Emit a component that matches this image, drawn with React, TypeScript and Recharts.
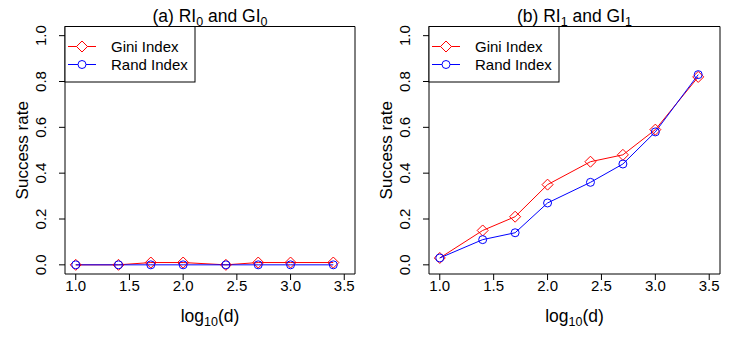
import React from "react";
import { LineChart, Line, XAxis, YAxis, ReferenceArea } from "recharts";

// ---- data ----
const logD = [1, 1.398, 1.699, 2, 2.398, 2.699, 3, 3.398];
const gini0 = [0, 0, 0.01, 0.01, 0, 0.01, 0.01, 0.01];
const rand0 = [0, 0, 0, 0, 0, 0, 0, 0];
const gini1 = [0.03, 0.15, 0.21, 0.35, 0.45, 0.48, 0.59, 0.82];
const rand1 = [0.03, 0.11, 0.14, 0.27, 0.36, 0.44, 0.58, 0.83];
const xTicks = [1, 1.5, 2, 2.5, 3, 3.5];
const yTicks = [0, 0.2, 0.4, 0.6, 0.8, 1];
const seriesNames = ["Gini Index", "Rand Index"];
const panelLetters = ["(a)", "(b)"];
const panelSubs = ["0", "1"];
const yLabel = "Success rate";

const FONT = "'Liberation Sans', Arial, Helvetica, sans-serif";
const RED = "#FF0000";
const BLUE = "#0000FF";

const Diamond = (props: any) => {
  const { cx, cy, index } = props;
  if (cx == null || cy == null) return <g key={"d" + index} />;
  const s = 5.5;
  return (
    <path
      key={"d" + index}
      d={`M${cx},${cy - s}L${cx + s},${cy}L${cx},${cy + s}L${cx - s},${cy}Z`}
      fill="none"
      stroke={RED}
      strokeWidth={1}
    />
  );
};

const Circ = (props: any) => {
  const { cx, cy, index } = props;
  if (cx == null || cy == null) return <g key={"c" + index} />;
  return <circle key={"c" + index} cx={cx} cy={cy} r={4} fill="none" stroke={BLUE} strokeWidth={1} />;
};

const XTick = (props: any) => {
  const { x, y, payload } = props;
  return (
    <text x={x} y={y + 11} textAnchor="middle" fontFamily={FONT} fontSize={15} fill="#000">
      {Number(payload.value).toFixed(1)}
    </text>
  );
};

const YTick = (props: any) => {
  const { x, y, payload } = props;
  const bx = x - 13;
  return (
    <text
      x={bx}
      y={y}
      transform={`rotate(-90, ${bx}, ${y})`}
      textAnchor="middle"
      fontFamily={FONT}
      fontSize={15}
      fill="#000"
    >
      {Number(payload.value).toFixed(1)}
    </text>
  );
};

const XLabel = (props: any) => {
  const vb = props.viewBox || {};
  const cx = vb.x + vb.width / 2;
  const by = vb.y + 48;
  return (
    <text x={cx} y={by} textAnchor="middle" fontFamily={FONT} fontSize={17.5} fill="#000">
      log
      <tspan dy={4} fontSize={12.5}>10</tspan>
      <tspan dy={-4}>(d)</tspan>
    </text>
  );
};

const YLabel = (props: any) => {
  const vb = props.viewBox || {};
  const bx = vb.x + vb.width - 37;
  const cy = vb.y + vb.height / 2;
  return (
    <text
      x={bx}
      y={cy}
      transform={`rotate(-90, ${bx}, ${cy})`}
      textAnchor="middle"
      fontFamily={FONT}
      fontSize={17}
      fill="#000"
    >
      {yLabel}
    </text>
  );
};

type PanelProps = {
  left: number;
  yAxisWidth: number;
  rightMargin: number;
  idx: number;
  gini: number[];
  rand: number[];
};

const W = 373;
const H = 339;
const TOP = 26.5;
const XH = 65;

function Panel({ left, yAxisWidth, rightMargin, idx, gini, rand }: PanelProps) {
  const data = logD.map((x, i) => ({ x, gini: gini[i], rand: rand[i] }));
  const plotLeft = yAxisWidth;
  const plotRight = W - rightMargin;
  const titleX = (plotLeft + plotRight) / 2;
  const lgW = 130;
  const lgH = 55.5;
  return (
    <div style={{ position: "absolute", left, top: 0, width: W, height: H }}>
      <LineChart
        width={W}
        height={H}
        data={data}
        margin={{ top: TOP, right: rightMargin, bottom: 0, left: 0 }}
        style={{ fontFamily: FONT }}
      >
        <XAxis
          type="number"
          dataKey="x"
          domain={[0.9, 3.6]}
          ticks={xTicks}
          height={XH}
          axisLine={false}
          tickLine={{ stroke: "#000" }}
          tickSize={6}
          tickMargin={0}
          tick={<XTick />}
          interval={0}
          allowDataOverflow
          label={<XLabel />}
        />
        <YAxis
          type="number"
          domain={[-0.04, 1.04]}
          ticks={yTicks}
          width={yAxisWidth}
          axisLine={false}
          tickLine={{ stroke: "#000" }}
          tickSize={6}
          tickMargin={0}
          tick={<YTick />}
          interval={0}
          allowDataOverflow
          label={<YLabel />}
        />
        <ReferenceArea
          x1={0.9}
          x2={3.6}
          y1={-0.04}
          y2={1.04}
          fill="none"
          fillOpacity={0}
          stroke="#000"
          strokeWidth={1}
          ifOverflow="visible"
        />
        <Line
          type="linear"
          dataKey="gini"
          name={seriesNames[0]}
          stroke={RED}
          strokeWidth={1}
          dot={Diamond}
          activeDot={false}
          isAnimationActive={false}
        />
        <Line
          type="linear"
          dataKey="rand"
          name={seriesNames[1]}
          stroke={BLUE}
          strokeWidth={1}
          dot={Circ}
          activeDot={false}
          isAnimationActive={false}
        />
      </LineChart>
      <svg
        width={W}
        height={H}
        style={{ position: "absolute", left: 0, top: 0, pointerEvents: "none" }}
      >
        <text x={titleX} y={21.5} textAnchor="middle" fontFamily={FONT} fontSize={17.5} fill="#000">
          {panelLetters[idx]} RI
          <tspan dy={4} fontSize={12.5}>{panelSubs[idx]}</tspan>
          <tspan dy={-4}> and GI</tspan>
          <tspan dy={4} fontSize={12.5}>{panelSubs[idx]}</tspan>
        </text>
        <g transform={`translate(${plotLeft}, ${TOP})`}>
          <rect x={0} y={0} width={lgW} height={lgH} fill="#fff" stroke="#000" strokeWidth={1} />
          <line x1={3} x2={31} y1={20} y2={20} stroke={RED} strokeWidth={1} />
          <path d="M17,14.5L22.5,20L17,25.5L11.5,20Z" fill="#fff" stroke={RED} strokeWidth={1} />
          <text x={46} y={25} fontFamily={FONT} fontSize={15} fill="#000">
            {seriesNames[0]}
          </text>
          <line x1={3} x2={31} y1={38} y2={38} stroke={BLUE} strokeWidth={1} />
          <circle cx={17} cy={38} r={4} fill="#fff" stroke={BLUE} strokeWidth={1} />
          <text x={46} y={43} fontFamily={FONT} fontSize={15} fill="#000">
            {seriesNames[1]}
          </text>
        </g>
      </svg>
    </div>
  );
}

export default function App() {
  return (
    <div style={{ position: "absolute", left: 0, top: 0, width: 747, height: 339, background: "#fff" }}>
      <Panel left={0} yAxisWidth={65} rightMargin={18} idx={0} gini={gini0} rand={rand0} />
      <Panel left={374} yAxisWidth={55} rightMargin={27} idx={1} gini={gini1} rand={rand1} />
    </div>
  );
}
